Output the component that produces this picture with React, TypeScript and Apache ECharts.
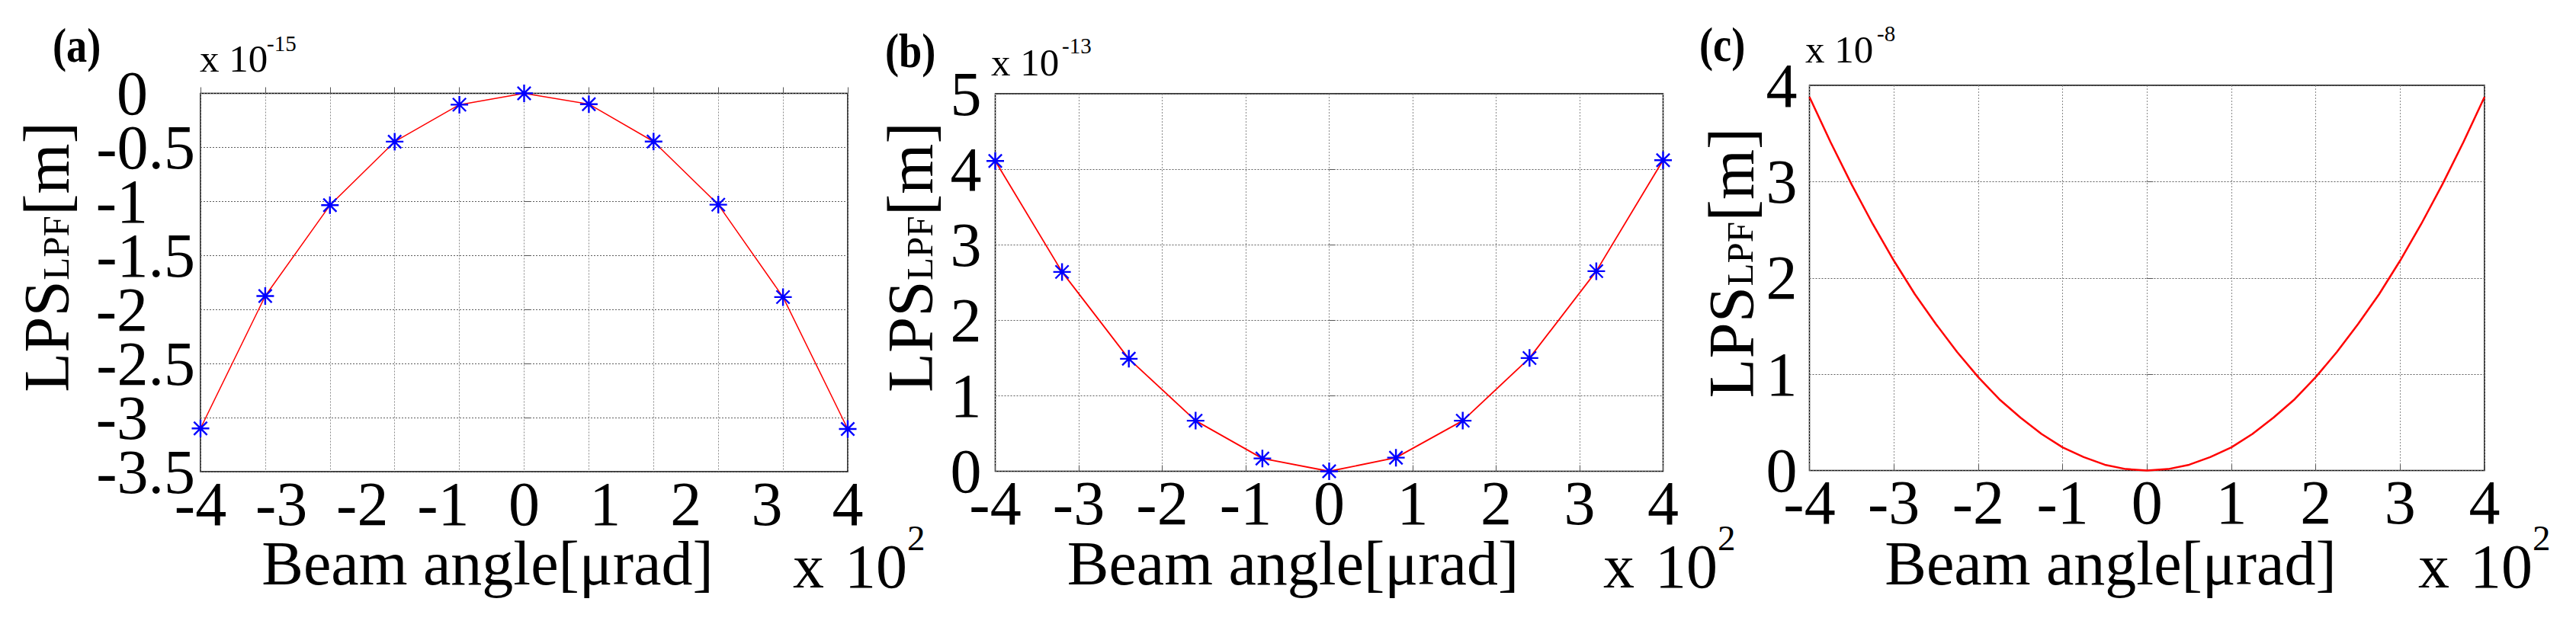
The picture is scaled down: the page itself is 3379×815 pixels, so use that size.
import React, { useEffect, useRef } from 'react';
import * as echarts from 'echarts';

const FONT = "'Liberation Serif', 'Times New Roman', Times, serif";

// ---------- data (x in units of 10^2 µrad) ----------
// Panel (a)  [x 10^-15 m]
const xA = [-4, -3.2, -2.4, -1.6, -0.8, 0, 0.8, 1.6, 2.4, 3.2, 4];
const yA = [-3.1, -1.875, -1.035, -0.447, -0.105, 0, -0.1, -0.446, -1.03, -1.885, -3.105];
// Panel (b)  [x 10^-13 m]
const xB = [-4, -3.2, -2.4, -1.6, -0.8, 0, 0.8, 1.6, 2.4, 3.2, 4];
const yB = [4.11, 2.64, 1.49, 0.67, 0.17, 0, 0.18, 0.67, 1.5, 2.65, 4.12];
// Panel (c)  [x 10^-8 m]
const xC = [
  -4, -3.75, -3.5, -3.25, -3, -2.75, -2.5, -2.25, -2, -1.75, -1.5, -1.25, -1, -0.75, -0.5, -0.25,
  0, 0.25, 0.5, 0.75, 1, 1.25, 1.5, 1.75, 2, 2.25, 2.5, 2.75, 3, 3.25, 3.5, 3.75, 4,
];
const yC = [
  3.88, 3.41, 2.97, 2.56, 2.18, 1.83, 1.52, 1.23, 0.97, 0.74, 0.55, 0.38, 0.24, 0.14, 0.06, 0.015,
  0, 0.015, 0.06, 0.14, 0.24, 0.38, 0.55, 0.74, 0.97, 1.23, 1.52, 1.83, 2.18, 2.56, 2.97, 3.41, 3.88,
];

// axis ranges / tick steps / tick labels
const xRange = [-4, 4];
const xTickStep = 1;
const xGridStepA = 0.8;
const yRangeA = [-3.5, 0];
const yStepA = 0.5;
const yTicksAInt = [-3, -2, -1, 0];
const yTicksAHalf = [-3.5, -2.5, -1.5, -0.5];
const yRangeB = [0, 5];
const yRangeC = [0, 4];
const yStep = 1;

// text
const xTitle = 'Beam angle[\u03bcrad]';
const yTitleParts = ['LPS', 'LPF', '[m]'];
const panelTags = ['(a)', '(b)', '(c)'];
const yExponents = ['-15', '-13', '-8'];
const xExponent = '2';

const STAR = 'path://M0,-10L0,10M-10,0L10,0M-7.5,-7.5L7.5,7.5M-7.5,7.5L7.5,-7.5';

const pairs = (xs: number[], ys: number[]) => xs.map((x, i) => [x, ys[i]]);

const labelStyle = { color: '#000', fontFamily: FONT, fontSize: 82, lineHeight: 82 };
const vGrid = { show: true, lineStyle: { color: '#8a8a8a', width: 1, type: [2, 2] } };
const hGrid = { show: true, lineStyle: { color: '#5e5e5e', width: 1, type: [2, 2] } };
const tick = { show: true, inside: true, length: 8, lineStyle: { color: '#555', width: 1 } };
const off = { show: false };

function txt(text: string, x: number, y: number, fontSize: number, extra: any = {}, align = 'left') {
  const { style: extraStyle, ...rest } = extra;
  return {
    type: 'text',
    x,
    y,
    silent: true,
    ...rest,
    style: {
      text,
      fontSize,
      fontFamily: FONT,
      fill: '#000',
      align,
      verticalAlign: 'middle',
      textAlign: align,
      textVerticalAlign: 'middle',
      ...(extraStyle || {}),
    },
  };
}

// rotated y title, drawn bottom-to-top; baseX = screen x of the text baseline, y0 = bottom start
function yTitle(g: any[], baseX: number, y0: number) {
  const big = 85;
  const small = 49;
  const rot = { rotation: Math.PI / 2 };
  g.push(txt(yTitleParts[0], baseX - 0.3375 * big, y0, big, { ...rot, style: { lineHeight: 70 } }));
  g.push(txt(yTitleParts[1], baseX - 0.3375 * small, y0 - 147, small, { ...rot, style: { lineHeight: 40 } }));
  g.push(txt(yTitleParts[2], baseX - 0.3375 * big, y0 - 147 - 85, big, { ...rot, style: { lineHeight: 70 } }));
}

function buildGraphic() {
  const g: any[] = [];
  const bold = (s: string, x: number, y: number) =>
    txt(s, x, y, 64, { scaleX: 0.85, style: { fontWeight: 'bold', lineHeight: 56 } });
  g.push(bold(panelTags[0], 69, 59));
  g.push(bold(panelTags[1], 1161, 66));
  g.push(bold(panelTags[2], 2229, 58));

  // y exponents
  g.push(txt('x 10', 262, 76.6, 51));
  g.push(txt(yExponents[0], 350, 57.2, 29));
  g.push(txt('x 10', 1300, 81.8, 51));
  g.push(txt(yExponents[1], 1393, 60.2, 29));
  g.push(txt('x 10', 2368, 65.1, 51));
  g.push(txt(yExponents[2], 2462, 43.8, 29));

  // y titles
  yTitle(g, 90, 514.7);
  yTitle(g, 1223, 515);
  yTitle(g, 2299.5, 522.4);

  // x titles
  g.push(txt(xTitle, 639.5, 739.3, 82, {}, 'center'));
  g.push(txt(xTitle, 1696, 739.3, 82, {}, 'center'));
  g.push(txt(xTitle, 2768.5, 739.3, 82, {}, 'center'));

  // x exponents
  const xe = (x0: number) => {
    g.push(txt('x', x0, 743, 82));
    g.push(txt('10', x0 + 68, 743, 82));
    g.push(txt(xExponent, x0 + 150, 705.8, 47));
  };
  xe(1040);
  xe(2103);
  xe(3172);
  return g;
}

const grids = [
  { left: 263, top: 122.5, width: 849, height: 496.5 },
  { left: 1305.5, top: 123, width: 876, height: 495.5 },
  { left: 2373.5, top: 112, width: 885.5, height: 505.5 },
].map((r) => ({
  ...r,
  show: true,
  borderColor: '#000',
  borderWidth: 1.5,
  backgroundColor: 'transparent',
  containLabel: false,
  outerBoundsMode: 'none',
}));

const xLabel = { ...labelStyle, margin: 1, showMinLabel: true, showMaxLabel: true, hideOverlap: false };
const yLabel = (margin: number) => ({
  ...labelStyle,
  lineHeight: 60,
  margin,
  showMinLabel: true,
  showMaxLabel: true,
  hideOverlap: false,
});

const axisA = (extra: any) => ({
  gridIndex: 0, type: 'value', min: yRangeA[0], max: yRangeA[1], interval: yStepA, position: 'left',
  axisLine: off, axisTick: off, splitLine: off, ...extra,
});

const markerStyle = { color: '#0000ff', borderColor: '#0000ff', borderWidth: 2.4 };

const option: any = {
  animation: false,
  backgroundColor: '#fff',
  grid: grids,
  xAxis: [
    {
      gridIndex: 0, type: 'value', min: xRange[0], max: xRange[1], interval: xTickStep, position: 'bottom',
      axisLine: off, axisTick: off, splitLine: off, axisLabel: xLabel,
    },
    {
      gridIndex: 0, type: 'value', min: xRange[0], max: xRange[1], interval: xGridStepA, position: 'bottom',
      axisLine: off, axisTick: tick, splitLine: vGrid, axisLabel: off,
    },
    {
      gridIndex: 1, type: 'value', min: xRange[0], max: xRange[1], interval: xTickStep,
      axisLine: off, axisTick: tick, splitLine: vGrid, axisLabel: xLabel,
    },
    {
      gridIndex: 2, type: 'value', min: xRange[0], max: xRange[1], interval: xTickStep,
      axisLine: off, axisTick: tick, splitLine: vGrid, axisLabel: xLabel,
    },
  ],
  yAxis: [
    axisA({ axisTick: tick, splitLine: hGrid, axisLabel: off }),
    {
      gridIndex: 1, type: 'value', min: yRangeB[0], max: yRangeB[1], interval: yStep,
      axisLine: off, axisTick: tick, splitLine: hGrid, axisLabel: yLabel(18),
    },
    {
      gridIndex: 2, type: 'value', min: yRangeC[0], max: yRangeC[1], interval: yStep,
      axisLine: off, axisTick: tick, splitLine: hGrid, axisLabel: yLabel(16),
    },
    // panel (a) labels: whole numbers (padded so the decimal points line up) and halves
    axisA({
      axisLabel: {
        ...yLabel(7),
        customValues: yTicksAInt,
        formatter: (v: number) => `{n|${v}}{p|\u00a0}`,
        rich: {
          n: { fontSize: 82, fontFamily: FONT, color: '#000', lineHeight: 60 },
          p: { width: 62, fontSize: 82, fontFamily: FONT, lineHeight: 60 },
        },
      },
    }),
    axisA({
      axisLabel: { ...yLabel(7), customValues: yTicksAHalf, formatter: (v: number) => `${v}` },
    }),
  ],
  series: [
    {
      type: 'line', xAxisIndex: 0, yAxisIndex: 0, data: pairs(xA, yA), clip: false,
      symbol: STAR, symbolSize: 23, showAllSymbol: true,
      lineStyle: { color: '#ff0000', width: 1.5 },
      itemStyle: markerStyle,
      emphasis: { disabled: true }, z: 5,
    },
    {
      type: 'line', xAxisIndex: 2, yAxisIndex: 1, data: pairs(xB, yB), clip: false,
      symbol: STAR, symbolSize: 23, showAllSymbol: true,
      lineStyle: { color: '#ff0000', width: 1.8 },
      itemStyle: markerStyle,
      emphasis: { disabled: true }, z: 5,
    },
    {
      type: 'line', xAxisIndex: 3, yAxisIndex: 2, data: pairs(xC, yC), clip: false,
      symbol: 'none', showSymbol: false,
      lineStyle: { color: '#ff0000', width: 2.5 },
      emphasis: { disabled: true }, z: 5,
    },
  ],
  graphic: { elements: buildGraphic() },
};

export default function App() {
  const ref = useRef<HTMLDivElement>(null);
  useEffect(() => {
    document.body.style.margin = '0';
    const chart = echarts.init(ref.current!, undefined, { renderer: 'svg', width: 3379, height: 815 });
    chart.setOption(option);
    return () => chart.dispose();
  }, []);
  return (
    <div
      ref={ref}
      style={{ width: 3379, height: 815, position: 'absolute', left: 0, top: 0, background: '#fff' }}
    />
  );
}
